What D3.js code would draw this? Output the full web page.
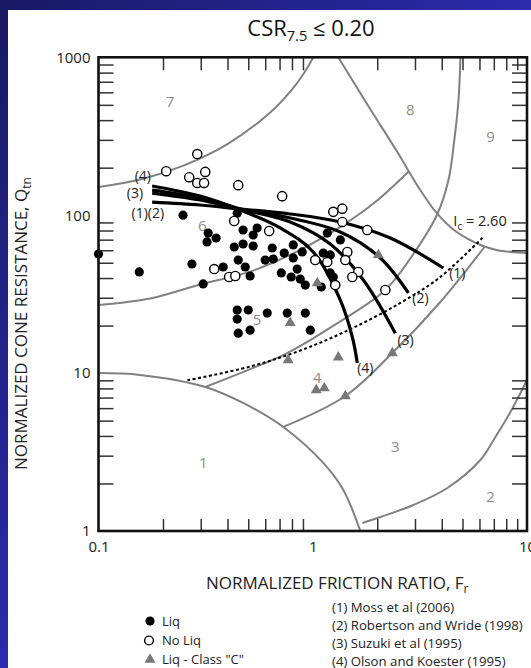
<!DOCTYPE html>
<html>
<head>
<meta charset="utf-8">
<style>
  html, body { margin: 0; padding: 0; overflow: hidden; background: #fff; }
  svg { display: block; }
  text { font-family: "Open Sans", "Noto Sans", "DejaVu Sans", sans-serif; }
</style>
</head>
<body>
<div id="container"></div>
<script src="https://cdn.jsdelivr.net/npm/d3@7"></script>
<script>
// values: normalized friction ratio Fr (%) vs Qtn

const xDecades = [0.1, 1, 10];
const xTickLabels = ["0.1", "1", "10"];
const yDecades = [1, 10, 100, 1000];
const yTickLabels = ["1", "10", "100", "1000"];

// case histories
const liqPoints = [
  [0.1, 56.8], [0.248, 100], [0.444, 103], [0.325, 77.1], [0.354, 71.7], [0.321, 67.7],
  [0.473, 80.6], [0.55, 83], [0.527, 74.9], [0.43, 62.9], [0.473, 65.7], [0.527, 63.8],
  [0.647, 62], [0.811, 64.8], [0.893, 58.5], [0.736, 57.6], [0.449, 52], [0.6, 52],
  [0.654, 52.8], [0.811, 53.6], [0.484, 47], [0.382, 47], [0.273, 49.1], [0.155, 43.7],
  [0.51, 41.2], [0.713, 43.1], [0.846, 45.6], [0.793, 40.6], [0.874, 39.4], [0.923, 36.1],
  [0.308, 36.7], [1.096, 35.1], [0.444, 25.1], [0.5, 25.1], [0.444, 22], [0.613, 24],
  [0.76, 24], [0.923, 24], [0.449, 17.9], [0.51, 18.7], [0.974, 18.7], [1.169, 77.1],
  [1.345, 69.7], [1.12, 57.6], [1.207, 56], [1.207, 43.1], [1.247, 40.6]
];

const noLiqPoints = [
  [0.289, 244], [0.207, 190], [0.265, 174], [0.315, 188], [0.289, 160], [0.311, 160],
  [0.449, 155], [0.72, 132], [0.43, 91.9], [0.626, 79.4], [0.347, 45.6], [0.407, 40.6],
  [0.435, 41.2], [1.247, 105], [1.374, 110], [1.374, 90.6], [1.797, 80.6], [1.45, 58.5],
  [1.419, 52], [1.027, 52], [1.169, 50.5], [1.632, 43.7], [1.53, 40.6], [1.274, 36.1],
  [2.182, 33.6]
];

const classCPoints = [
  [2.024, 56], [1.05, 37.2], [0.785, 20.8], [0.768, 12.1], [1.316, 12.6],
  [2.352, 13.4], [1.038, 7.82], [1.132, 8.05], [1.419, 7.16]
];

// CRR = 0.20 boundary curves
const mossCurve = [[0.178, 121], [0.298, 116], [0.458, 109.5], [0.785, 101.8], [1.345, 90.6], [2.302, 71.7], [4.07, 46.3]];
const robertsonWrideCurve = [[0.178, 138], [0.298, 124.8], [0.458, 109.5], [0.785, 96], [1.345, 78.3], [2.067, 53.6], [2.795, 32.2]];
const suzukiCurve = [[0.178, 144], [0.298, 128.5], [0.458, 109.5], [0.785, 90.6], [1.207, 65.7], [1.722, 38.9], [2.429, 17.9]];
const olsonKoesterCurve = [[0.178, 153], [0.298, 132], [0.458, 108], [0.705, 83], [1.005, 58.5], [1.345, 29], [1.53, 16.9], [1.614, 11.6]];

// Ic = 2.60 line
const ic260Line = [[0.26, 9.0], [0.51, 11], [0.875, 13.9], [1.49, 18.9], [2.55, 27.7], [3.93, 40.5], [6.2, 72]];

// soil behaviour type zone boundaries
const zone1Line = [[0.1, 10], [0.156, 9.73], [0.315, 8.17], [0.473, 6.47], [0.728, 4.56], [1.12, 2.7], [1.389, 1.82], [1.667, 1]];
const zone23Line = [[1.703, 1.124], [2.067, 1.226], [2.95, 1.461], [4.25, 1.872], [6.06, 2.816], [6.98, 3.77], [8.37, 5.67], [10, 9.04]];
const zone34Line = [[0.728, 4.56], [1.419, 7.16], [2.352, 13.4], [3.94, 28.2], [6.33, 62.9]];
const zone45Line = [[0.315, 8.17], [0.484, 10.3], [0.76, 13.4], [1.288, 20.5], [2.182, 33.6], [2.886, 54.4], [3.817, 101.8], [4.3, 167], [4.58, 300], [4.79, 537], [4.89, 1000]];
const zone56Line = [[0.1, 27], [0.174, 29.7], [0.298, 36.4], [0.51, 43.9], [0.875, 60.4], [1.374, 85.9], [1.97, 122], [2.81, 190]];
const zone67Line = [[0.1, 151], [0.158, 169], [0.251, 207], [0.398, 281], [0.631, 445], [0.794, 617], [0.9, 775], [1.006, 1000]];
const zone89Line = [[1.316, 1000], [1.817, 491], [2.483, 251], [3.179, 144], [3.817, 102], [4.487, 82], [5.272, 71], [6.194, 64], [7.28, 60], [10, 57.6]];

const zoneNames = ["1", "2", "3", "4", "5", "6", "7", "8", "9"];
const zoneLabelAt = [[0.308, 2.7], [6.75, 1.64], [2.43, 3.4], [1.05, 9.31], [0.55, 21.7], [0.305, 85.4], [0.216, 521], [2.85, 464], [6.75, 313]];

const startLabels = ["(4)", "(3)", "(1)(2)"];
const startLabelAt = [[0.161, 176], [0.148, 139], [0.170, 103.3]];
const endLabels = ["(1)", "(2)", "(3)", "(4)"];
const endLabelAt = [[4.73, 43.1], [3.18, 29.9], [2.71, 16.2], [1.76, 10.8]];
const icLabelAt = [4.53, 91.9];

const legendSymbols = ["Liq", "No Liq", "Liq - Class \"C\""];
const legendSources = ["(1) Moss et al (2006)", "(2) Robertson and Wride (1998)", "(3) Suzuki et al (1995)", "(4) Olson and Koester (1995)"];

const width = 531;
const height = 668;
const plot = { left: 98.5, top: 57.3, right: 527, bottom: 531 };

const svg = d3.select("#container")
    .append("svg")
    .attr("width", width)
    .attr("height", height);

// slide background
const grad = svg.append("defs").append("linearGradient")
    .attr("id", "bg").attr("x1", 0).attr("y1", 0).attr("x2", 1).attr("y2", 1);
grad.append("stop").attr("offset", "0%").attr("stop-color", "#191964");
grad.append("stop").attr("offset", "50%").attr("stop-color", "#2b2bac");
grad.append("stop").attr("offset", "100%").attr("stop-color", "#3a3ad2");

svg.append("rect").attr("width", width).attr("height", height).attr("fill", "url(#bg)");
svg.append("rect").attr("x", 8).attr("y", 10).attr("width", width - 8).attr("height", height - 10).attr("fill", "#fff");

const x = d3.scaleLog().domain([0.1, 10]).range([plot.left, plot.right]);
const y = d3.scaleLog().domain([1, 1000]).range([plot.bottom, plot.top]);

const line = d3.line()
    .x(d => x(d[0]))
    .y(d => y(d[1]))
    .curve(d3.curveCatmullRom.alpha(0.5));

// zone boundaries
svg.append("g")
    .selectAll("path")
    .data([zone1Line, zone23Line, zone34Line, zone45Line, zone56Line, zone67Line, zone89Line])
    .join("path")
    .attr("d", line)
    .attr("fill", "none")
    .attr("stroke", "#818181")
    .attr("stroke-width", 2);

// zone numbers
svg.append("g")
    .selectAll("text")
    .data(zoneNames)
    .join("text")
    .attr("x", (d, i) => x(zoneLabelAt[i][0]))
    .attr("y", (d, i) => y(zoneLabelAt[i][1]))
    .attr("dy", "0.35em")
    .attr("text-anchor", "middle")
    .attr("font-size", 15)
    .attr("fill", "#8c8c8c")
    .text(d => d);

// Ic = 2.60
svg.append("path")
    .attr("d", line(ic260Line))
    .attr("fill", "none")
    .attr("stroke", "#000")
    .attr("stroke-width", 2)
    .attr("stroke-dasharray", "3,2.5");

// CRR curves
svg.append("g")
    .selectAll("path")
    .data([mossCurve, robertsonWrideCurve, suzukiCurve, olsonKoesterCurve])
    .join("path")
    .attr("d", line)
    .attr("fill", "none")
    .attr("stroke", "#000")
    .attr("stroke-width", 3.2);

// points
svg.append("g")
    .selectAll("circle")
    .data(liqPoints)
    .join("circle")
    .attr("cx", d => x(d[0]))
    .attr("cy", d => y(d[1]))
    .attr("r", 4.6)
    .attr("fill", "#000");

svg.append("g")
    .selectAll("circle")
    .data(noLiqPoints)
    .join("circle")
    .attr("cx", d => x(d[0]))
    .attr("cy", d => y(d[1]))
    .attr("r", 4.6)
    .attr("fill", "#fff")
    .attr("stroke", "#000")
    .attr("stroke-width", 1.4);

const triangle = d3.symbol().type(d3.symbolTriangle).size(52);

svg.append("g")
    .selectAll("path")
    .data(classCPoints)
    .join("path")
    .attr("transform", d => `translate(${x(d[0])},${y(d[1])})`)
    .attr("d", triangle)
    .attr("fill", "#787878");

// curve labels
svg.append("g")
    .selectAll("text")
    .data(startLabels)
    .join("text")
    .attr("x", (d, i) => x(startLabelAt[i][0]))
    .attr("y", (d, i) => y(startLabelAt[i][1]))
    .attr("dy", "0.35em")
    .attr("text-anchor", "middle")
    .attr("font-size", 14)
    .attr("fill", "#222")
    .text(d => d);

svg.append("g")
    .selectAll("text")
    .data(endLabels)
    .join("text")
    .attr("x", (d, i) => x(endLabelAt[i][0]))
    .attr("y", (d, i) => y(endLabelAt[i][1]))
    .attr("dy", "0.35em")
    .attr("text-anchor", "middle")
    .attr("font-size", 14)
    .attr("fill", "#222")
    .text(d => d);

const icLabel = svg.append("text")
    .attr("x", x(icLabelAt[0]))
    .attr("y", y(icLabelAt[1]))
    .attr("dy", "0.35em")
    .attr("font-size", 14.5)
    .attr("fill", "#222");
icLabel.append("tspan").text("I");
icLabel.append("tspan").attr("font-size", 10).attr("dy", 4).text("c");
icLabel.append("tspan").attr("dy", -4).text(" = 2.60");

// minor ticks (inside) on all four sides
const isDecade = v => Math.abs(Math.log10(v) - Math.round(Math.log10(v))) < 1e-6;
const minorX = x.ticks().filter(v => !isDecade(v));
const minorY = y.ticks().filter(v => !isDecade(v));

function tickStyle(g) {
    g.select(".domain").remove();
    g.selectAll(".tick line").attr("stroke", "#333").attr("stroke-width", 1.5);
}

svg.append("g")
    .attr("transform", `translate(0,${plot.bottom})`)
    .call(d3.axisBottom(x).tickValues(minorX).tickSize(-12).tickFormat(""))
    .call(tickStyle);
svg.append("g")
    .attr("transform", `translate(0,${plot.top})`)
    .call(d3.axisTop(x).tickValues(minorX).tickSize(-13).tickFormat(""))
    .call(tickStyle);
svg.append("g")
    .attr("transform", `translate(${plot.left},0)`)
    .call(d3.axisLeft(y).tickValues(minorY).tickSize(-15).tickFormat(""))
    .call(tickStyle);
svg.append("g")
    .attr("transform", `translate(${plot.right},0)`)
    .call(d3.axisRight(y).tickValues(minorY).tickSize(-15).tickFormat(""))
    .call(tickStyle);

// frame
svg.append("rect")
    .attr("x", plot.left)
    .attr("y", plot.top)
    .attr("width", plot.right - plot.left)
    .attr("height", plot.bottom - plot.top)
    .attr("fill", "none")
    .attr("stroke", "#111")
    .attr("stroke-width", 2.6);

// decade labels
svg.append("g")
    .attr("transform", `translate(0,${plot.bottom})`)
    .call(d3.axisBottom(x).tickValues(xDecades).tickFormat((d, i) => xTickLabels[i]).tickSize(0).tickPadding(10))
    .call(g => g.select(".domain").remove())
    .attr("font-size", 15)
    .call(g => g.selectAll("text").attr("fill", "#222"));

svg.append("g")
    .attr("transform", `translate(${plot.left},0)`)
    .call(d3.axisLeft(y).tickValues(yDecades).tickFormat((d, i) => yTickLabels[i]).tickSize(0).tickPadding(8))
    .call(g => g.select(".domain").remove())
    .attr("font-size", 15)
    .call(g => g.selectAll("text").attr("fill", "#222"));

// title
const title = svg.append("text")
    .attr("x", 311)
    .attr("y", 36)
    .attr("text-anchor", "middle")
    .attr("font-size", 22)
    .attr("fill", "#111");
title.append("tspan").text("CSR");
title.append("tspan").attr("font-size", 14.5).attr("dy", 5).text("7.5");
title.append("tspan").attr("dy", -5).text(" \u2264 0.20");

// axis titles
const xTitle = svg.append("text")
    .attr("x", 206)
    .attr("y", 589)
    .attr("font-size", 17)
    .attr("fill", "#222");
xTitle.append("tspan").text("NORMALIZED FRICTION RATIO, F");
xTitle.append("tspan").attr("font-size", 12).attr("dy", 4).text("r");

const yTitle = svg.append("text")
    .attr("transform", "translate(27,470) rotate(-90)")
    .attr("font-size", 17)
    .attr("fill", "#222");
yTitle.append("tspan").text("NORMALIZED CONE RESISTANCE, Q");
yTitle.append("tspan").attr("font-size", 12).attr("dy", 4).text("tn");

// legend
const legendRows = [621, 640.5, 659.5];
const legend = svg.append("g");
legend.append("circle").attr("cx", 150).attr("cy", legendRows[0]).attr("r", 4.6).attr("fill", "#000");
legend.append("circle").attr("cx", 149).attr("cy", legendRows[1]).attr("r", 4.4)
    .attr("fill", "#fff").attr("stroke", "#000").attr("stroke-width", 1.4);
legend.append("path").attr("transform", `translate(150,${legendRows[2]})`).attr("d", triangle).attr("fill", "#787878");

legend.selectAll("text.sym")
    .data(legendSymbols)
    .join("text")
    .attr("class", "sym")
    .attr("x", 162)
    .attr("y", (d, i) => legendRows[i])
    .attr("dy", "0.35em")
    .attr("font-size", 13)
    .attr("fill", "#222")
    .text(d => d);

const sourceRows = [607, 625.5, 643.5, 661];
legend.selectAll("text.src")
    .data(legendSources)
    .join("text")
    .attr("class", "src")
    .attr("x", 332)
    .attr("y", (d, i) => sourceRows[i])
    .attr("dy", "0.35em")
    .attr("font-size", 13.2)
    .attr("fill", "#222")
    .text(d => d);
</script>
</body>
</html>
